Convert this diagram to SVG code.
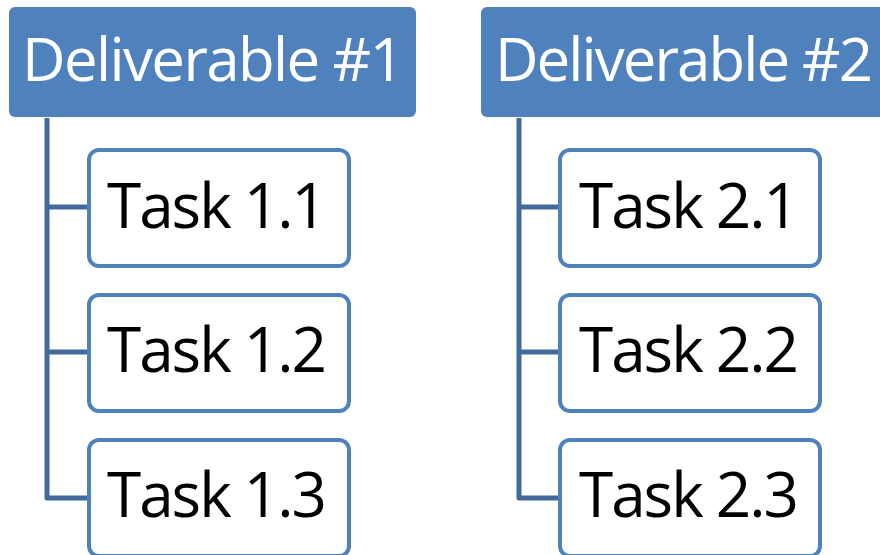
<svg xmlns="http://www.w3.org/2000/svg" width="880" height="555" viewBox="0 0 880 555">
<style>
.hdr{fill:#4F81BD;}
.htxt{fill:#FFFFFF;font-family:"Open Sans","Liberation Sans",Arial,sans-serif;font-size:60px;text-anchor:middle;}
.task{fill:#FFFFFF;stroke:#4F81BD;stroke-width:4;}
.ttxt{fill:#000000;font-family:"Open Sans","Liberation Sans",Arial,sans-serif;font-size:62px;text-anchor:middle;}
.conn{fill:none;stroke:#41699A;stroke-width:5;stroke-linejoin:round;}
</style>
<rect width="880" height="555" fill="#FFFFFF"/>
<g id="connectors">
<path class="conn" d="M47,118 V498 H88 M47,207 H88 M47,352 H88"/>
<path class="conn" d="M519,118 V498 H558 M519,207 H558 M519,352 H558"/>
</g>
<g id="deliverable1">
<rect class="hdr" x="9" y="7" width="407" height="110" rx="6"/>
<text class="htxt" x="213" y="81" textLength="382">Deliverable #1</text>
</g>
<g id="deliverable2">
<rect class="hdr" x="481" y="7" width="407" height="110" rx="6"/>
<text class="htxt" x="684" y="81" textLength="378">Deliverable #2</text>
</g>
<g id="task11">
<rect class="task" x="89" y="150" width="260" height="116" rx="10"/>
<text class="ttxt" x="217" y="228" textLength="220">Task 1.1</text>
</g>
<g id="task12">
<rect class="task" x="89" y="295" width="260" height="116" rx="10"/>
<text class="ttxt" x="217" y="372" textLength="220">Task 1.2</text>
</g>
<g id="task13">
<rect class="task" x="89" y="440" width="260" height="116" rx="10"/>
<text class="ttxt" x="217" y="517" textLength="220">Task 1.3</text>
</g>
<g id="task21">
<rect class="task" x="560" y="150" width="260" height="116" rx="10"/>
<text class="ttxt" x="689" y="228" textLength="220">Task 2.1</text>
</g>
<g id="task22">
<rect class="task" x="560" y="295" width="260" height="116" rx="10"/>
<text class="ttxt" x="689" y="372" textLength="220">Task 2.2</text>
</g>
<g id="task23">
<rect class="task" x="560" y="440" width="260" height="116" rx="10"/>
<text class="ttxt" x="689" y="517" textLength="220">Task 2.3</text>
</g>
</svg>
